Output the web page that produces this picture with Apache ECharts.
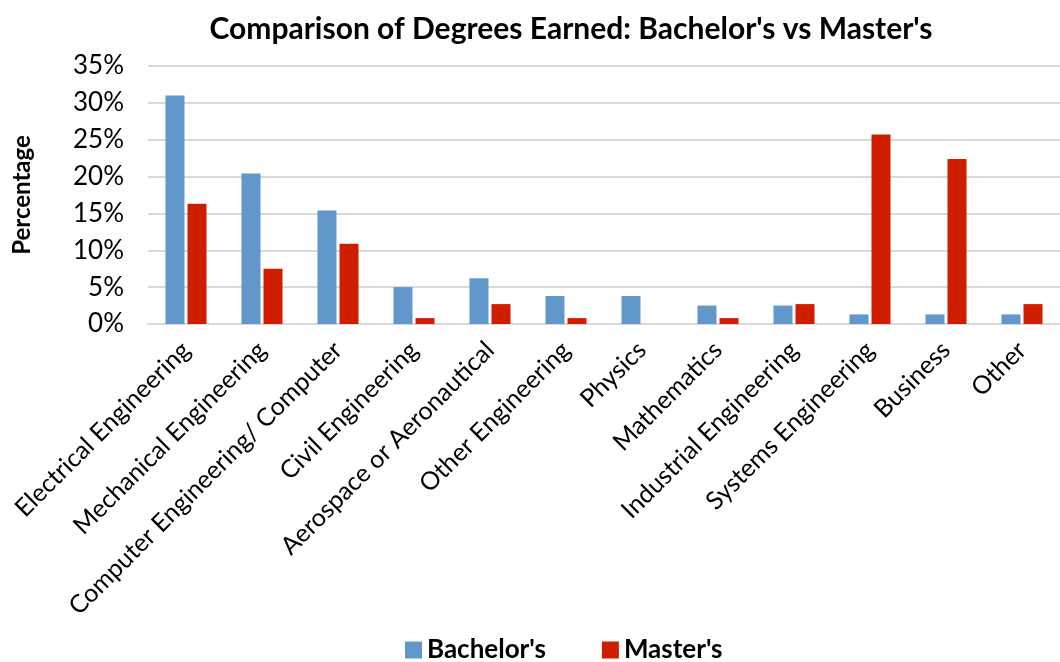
<!DOCTYPE html>
<html><head><meta charset="utf-8">
<script src="https://cdn.jsdelivr.net/npm/echarts@6/dist/echarts.min.js"></script>
<style>html,body{margin:0;padding:0;background:#fff}#c{width:1060px;height:662px}</style>
</head><body><div id="c"></div>
<script>
const categories = ["Electrical Engineering","Mechanical Engineering","Computer Engineering/ Computer","Civil Engineering","Aerospace or Aeronautical","Other Engineering","Physics","Mathematics","Industrial Engineering","Systems Engineering","Business","Other"];
const bachelors = [31.0, 20.4, 15.4, 5.0, 6.2, 3.8, 3.8, 2.5, 2.5, 1.3, 1.3, 1.3];
const masters = [16.3, 7.5, 10.9, 0.8, 2.7, 0.8, 0, 0.8, 2.7, 25.7, 22.4, 2.7];
const yTicks = [0, 5, 10, 15, 20, 25, 30, 35];
const FONT = 'Lato';
const chart = echarts.init(document.getElementById('c'), null, {renderer:'canvas'});
chart.setOption({
  animation:false,
  backgroundColor:'#fff',
  title:{text:"Comparison of Degrees Earned: Bachelor's vs Master's",left:566,top:9,textAlign:'center',
    textStyle:{fontFamily:FONT,fontWeight:'bold',fontSize:30,color:'#000'}},
  legend:{top:632,left:400,itemWidth:17,itemHeight:17,itemGap:56,icon:'rect',
    textStyle:{fontFamily:FONT,fontWeight:'bold',fontSize:26,color:'#000'}},
  grid:{left:148,top:66,width:922,height:258,containLabel:false},
  xAxis:{type:'category',data:categories,
    axisLine:{lineStyle:{color:'#d9d9d9',width:2}},axisTick:{show:false},
    axisLabel:{rotate:45,interval:0,margin:22,fontFamily:FONT,fontSize:25,color:'#000'}},
  yAxis:{type:'value',min:0,max:35,interval:5,
    name:'Percentage',nameLocation:'middle',nameGap:114,nameRotate:90,
    nameTextStyle:{fontFamily:FONT,fontWeight:'bold',fontSize:24,color:'#000'},
    axisLine:{show:false},axisTick:{show:false},
    splitLine:{lineStyle:{color:'#d9d9d9',width:2}},
    axisLabel:{margin:24,fontFamily:FONT,fontSize:26,color:'#000',formatter:v=>v+'%'}},
  series:[
    {name:"Bachelor's",type:'bar',data:bachelors,barWidth:19,barGap:'16%',itemStyle:{color:'#6197CA'}},
    {name:"Master's",type:'bar',data:masters,barWidth:19,itemStyle:{color:'#CF1D00'}}
  ]
});
</script></body></html>
